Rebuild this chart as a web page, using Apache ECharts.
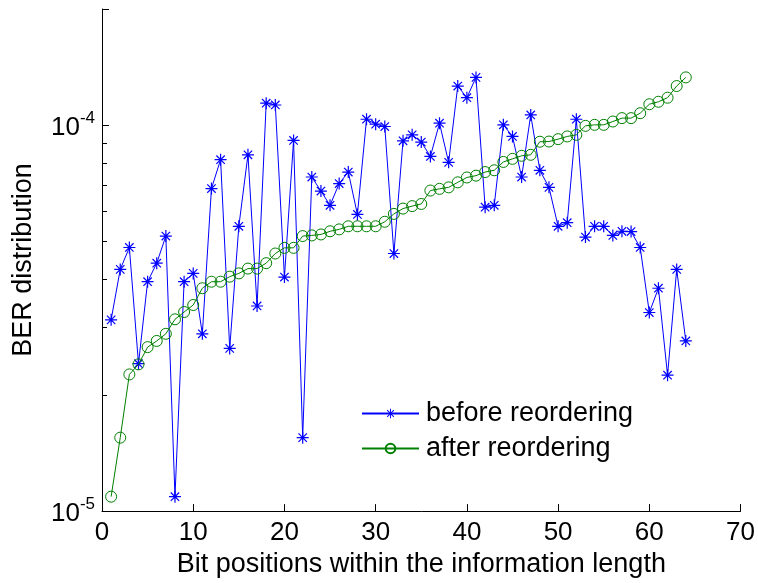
<!DOCTYPE html>
<html>
<head>
<meta charset="utf-8">
<script src="https://cdn.jsdelivr.net/npm/echarts@6/dist/echarts.min.js"></script>
<style>
  html, body { margin: 0; padding: 0; background: #fff; }
  #chart { width: 758px; height: 583px; }
</style>
</head>
<body>
<div id="chart"></div>
<script>
// Bit index inside the information block
const bitPositions = [
  1, 2, 3, 4, 5, 6, 7, 8, 9, 10, 11, 12, 13, 14, 15, 16,
  17, 18, 19, 20, 21, 22, 23, 24, 25, 26, 27, 28, 29, 30, 31, 32,
  33, 34, 35, 36, 37, 38, 39, 40, 41, 42, 43, 44, 45, 46, 47, 48,
  49, 50, 51, 52, 53, 54, 55, 56, 57, 58, 59, 60, 61, 62, 63, 64
];

// Per-bit BER in natural bit order
const berBefore = [
  3.13e-5, 4.23e-5, 4.82e-5, 2.41e-5, 3.93e-5, 4.39e-5, 5.16e-5, 1.09e-5,
  3.93e-5, 4.13e-5, 2.88e-5, 6.85e-5, 8.14e-5, 2.64e-5, 5.47e-5, 8.38e-5,
  3.40e-5, 11.40e-5, 11.28e-5, 4.04e-5, 9.13e-5, 1.55e-5, 7.34e-5, 6.75e-5,
  6.20e-5, 7.06e-5, 7.56e-5, 5.87e-5, 10.36e-5, 10.06e-5, 9.92e-5, 4.65e-5,
  9.11e-5, 9.44e-5, 9.04e-5, 8.30e-5, 10.12e-5, 8.01e-5, 12.63e-5, 11.78e-5,
  13.30e-5, 6.13e-5, 6.20e-5, 10.02e-5, 9.35e-5, 7.34e-5, 10.63e-5, 7.64e-5,
  6.90e-5, 5.47e-5, 5.59e-5, 10.36e-5, 5.13e-5, 5.47e-5, 5.47e-5, 5.18e-5,
  5.31e-5, 5.30e-5, 4.82e-5, 3.27e-5, 3.78e-5, 2.25e-5, 4.23e-5, 2.76e-5
];

// Per-bit BER once the bits are reordered
const berAfter = [
  1.09e-5, 1.55e-5, 2.26e-5, 2.40e-5, 2.66e-5, 2.76e-5, 2.88e-5, 3.14e-5,
  3.28e-5, 3.42e-5, 3.78e-5, 3.93e-5, 3.93e-5, 4.05e-5, 4.13e-5, 4.25e-5,
  4.25e-5, 4.39e-5, 4.65e-5, 4.81e-5, 4.81e-5, 5.16e-5, 5.18e-5, 5.21e-5,
  5.31e-5, 5.37e-5, 5.47e-5, 5.47e-5, 5.47e-5, 5.47e-5, 5.62e-5, 5.89e-5,
  6.08e-5, 6.17e-5, 6.25e-5, 6.77e-5, 6.84e-5, 6.90e-5, 7.11e-5, 7.32e-5,
  7.40e-5, 7.56e-5, 7.64e-5, 8.03e-5, 8.18e-5, 8.33e-5, 8.38e-5, 9.06e-5,
  9.07e-5, 9.20e-5, 9.35e-5, 9.44e-5, 9.96e-5, 10.02e-5, 10.02e-5, 10.22e-5,
  10.43e-5, 10.43e-5, 10.74e-5, 11.33e-5, 11.50e-5, 11.78e-5, 12.63e-5, 13.30e-5
];

const seriesNames = ['before reordering', 'after reordering'];

// Minor tick positions on the logarithmic y axis
const yMinorTicks = [2e-5, 3e-5, 4e-5, 5e-5, 6e-5, 7e-5, 8e-5, 9e-5, 2e-4];

const FONT = '"Liberation Sans", Arial, Helvetica, sans-serif';
const BLUE = '#0000ff';
const GREEN = '#008000';

// Asterisk marker: a "+" overlaid with an "x"
const ASTERISK = 'path://M9,0H11V20H9Z M0,9H20V11H0Z ' +
  'M3.71,2.29L17.71,16.29L16.29,17.71L2.29,3.71Z ' +
  'M17.71,3.71L3.71,17.71L2.29,16.29L16.29,2.29Z';

const chart = echarts.init(document.getElementById('chart'), null, { renderer: 'canvas' });

chart.setOption({
  animation: false,
  backgroundColor: '#ffffff',
  grid: { left: 102, right: 17, top: 9, bottom: 70.5, containLabel: false },
  legend: {
    data: seriesNames,
    orient: 'vertical',
    left: 361,
    top: 400,
    padding: 0,
    itemWidth: 57,
    itemHeight: 12,
    itemGap: 8,
    textStyle: { fontFamily: FONT, fontSize: 27, color: '#000', lineHeight: 27, padding: [0, 0, 0, 2] }
  },
  xAxis: {
    type: 'value',
    min: 0,
    max: 70,
    interval: 10,
    name: 'Bit positions within the information length',
    nameLocation: 'middle',
    nameGap: 38,
    nameTextStyle: { fontFamily: FONT, fontSize: 27, color: '#000' },
    axisLine: { show: true, lineStyle: { color: '#000', width: 1 } },
    axisTick: { show: true, inside: true, length: 7, lineStyle: { color: '#000', width: 1 } },
    axisLabel: { fontFamily: FONT, fontSize: 26, color: '#000', margin: 9 },
    splitLine: { show: false }
  },
  yAxis: {
    type: 'log',
    logBase: 10,
    min: 1e-5,
    max: 2e-4,
    name: 'BER distribution',
    nameLocation: 'middle',
    nameGap: 65,
    nameTextStyle: { fontFamily: FONT, fontSize: 27, color: '#000' },
    axisLine: { show: true, lineStyle: { color: '#000', width: 1 } },
    axisTick: { show: true, inside: true, length: 7, lineStyle: { color: '#000', width: 1 } },
    minorTick: { show: false },
    splitLine: { show: false },
    axisLabel: {
      margin: 7,
      formatter: function (v) {
        const e = Math.log10(v);
        if (Math.abs(e - Math.round(e)) > 1e-6) return '';
        return '{b|10}{s|' + Math.round(e) + '}';
      },
      rich: {
        b: { fontFamily: FONT, fontSize: 26, color: '#000', verticalAlign: 'bottom' },
        s: { fontFamily: FONT, fontSize: 17, color: '#000', verticalAlign: 'bottom', padding: [0, 0, 14, 0] }
      }
    }
  },
  series: [
    {
      name: seriesNames[0],
      type: 'line',
      data: bitPositions.map((x, i) => [x, berBefore[i]]),
      symbol: ASTERISK,
      symbolSize: 12,
      lineStyle: { color: BLUE, width: 1 },
      itemStyle: { color: BLUE },
      z: 2
    },
    {
      name: seriesNames[1],
      type: 'line',
      data: bitPositions.map((x, i) => [x, berAfter[i]]),
      symbol: 'circle',
      symbolSize: 11,
      lineStyle: { color: GREEN, width: 1 },
      itemStyle: { color: 'rgba(255,255,255,0)', borderColor: GREEN, borderWidth: 1 },
      z: 3
    },
    {
      // short inward ticks at 2..9 x 10^n on the log axis
      type: 'custom',
      silent: true,
      clip: false,
      z: 4,
      data: yMinorTicks.map(v => [0, v]),
      renderItem: function (params, api) {
        const p = api.coord([api.value(0), api.value(1)]);
        const y = Math.round(p[1]) + 0.5;
        return {
          type: 'line',
          shape: { x1: p[0], y1: y, x2: p[0] + 5, y2: y },
          style: { stroke: '#000', lineWidth: 1 }
        };
      }
    }
  ]
});
</script>
</body>
</html>
